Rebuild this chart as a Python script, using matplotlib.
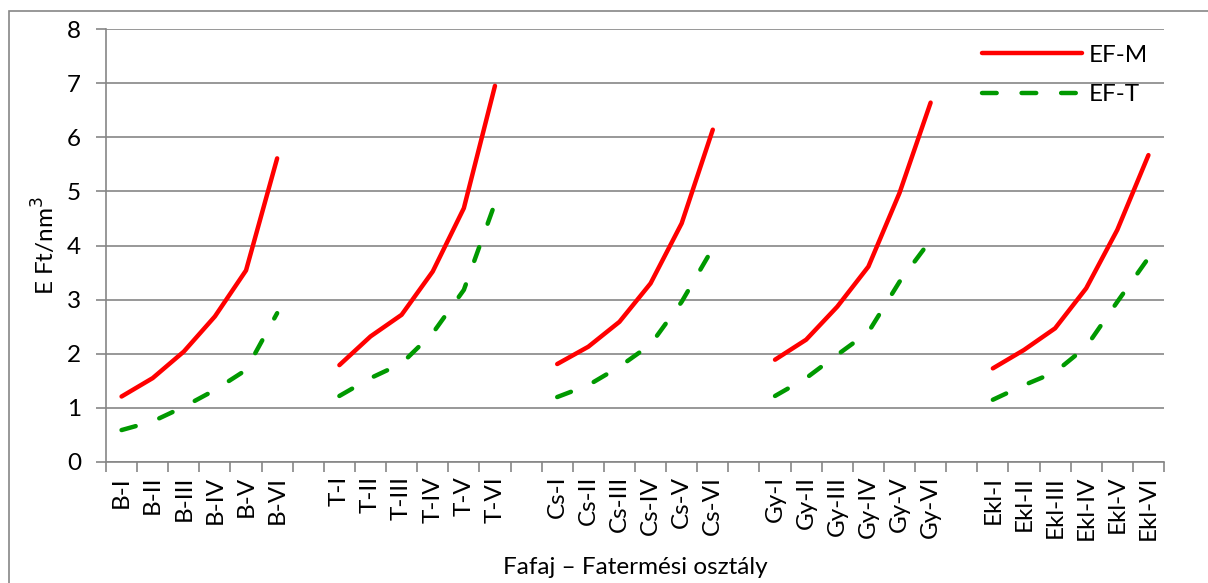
import numpy as np
import matplotlib.pyplot as plt
from matplotlib.patches import Rectangle

plt.rcParams['font.family'] = ['Lato', 'DejaVu Sans']

fafaj = ['B', 'T', 'Cs', 'Gy', 'Ekl']
osztaly = ['I', 'II', 'III', 'IV', 'V', 'VI']

# EF-M ertekek fafajonkent
ef_m = {
    'B':   [1.21, 1.55, 2.04, 2.69, 3.54, 5.61],
    'T':   [1.79, 2.32, 2.72, 3.52, 4.69, 6.95],
    'Cs':  [1.81, 2.13, 2.59, 3.30, 4.41, 6.14],
    'Gy':  [1.89, 2.26, 2.87, 3.61, 4.97, 6.64],
    'Ekl': [1.73, 2.07, 2.47, 3.21, 4.29, 5.67],
}
# EF-T ertekek fafajonkent
ef_t = {
    'B':   [0.59, 0.75, 1.02, 1.33, 1.70, 2.75],
    'T':   [1.22, 1.55, 1.82, 2.38, 3.18, 4.78],
    'Cs':  [1.20, 1.42, 1.76, 2.17, 2.96, 3.95],
    'Gy':  [1.22, 1.55, 1.98, 2.40, 3.33, 4.10],
    'Ekl': [1.15, 1.42, 1.66, 2.13, 2.96, 3.77],
}

# kategoriak, csoportok kozott ures hellyel
labels = []
m_vals = []
t_vals = []
for i, f in enumerate(fafaj):
    if i > 0:
        labels.append('')
        m_vals.append(np.nan)
        t_vals.append(np.nan)
    for j, o in enumerate(osztaly):
        labels.append(f + '-' + o)
        m_vals.append(ef_m[f][j])
        t_vals.append(ef_t[f][j])

x = np.arange(len(labels))
szurke = '#868686'
fs = 17.5

fig = plt.figure(figsize=(12.08, 5.83), dpi=100)
ax = fig.add_axes([106/1208, 1 - 462/583, (1164-106)/1208, (462-29)/583])

ax.plot(x, m_vals, color='#ff0000', lw=3.2, solid_capstyle='round',
        solid_joinstyle='round', label='EF-M')
ax.plot(x, t_vals, color='#009900', lw=3.2, dashes=(3.3, 5.6),
        dash_capstyle='round', label='EF-T')

ax.set_xlim(-0.5, len(labels) - 0.5)
ax.set_ylim(0, 8)
ax.set_yticks(range(0, 9))
ax.yaxis.grid(True, color=szurke, lw=1.2)
ax.set_axisbelow(True)

ax.set_xticks(x)
ax.set_xticklabels(labels, rotation=90, fontsize=fs)
ax.set_xticks(np.arange(-0.5, len(labels)), minor=True)
ax.tick_params(axis='x', which='major', length=0, pad=10)
ax.tick_params(axis='x', which='minor', length=7, width=1.2, color=szurke)
ax.tick_params(axis='y', length=7, width=1.2, color=szurke, labelsize=fs, pad=11)

for s in ['top', 'right']:
    ax.spines[s].set_visible(False)
for s in ['left', 'bottom']:
    ax.spines[s].set_color(szurke)
    ax.spines[s].set_linewidth(1.2)

ax.set_ylabel('E Ft/nm$^3$', fontsize=fs, labelpad=6)
ax.set_xlabel('Fafaj – Fatermési osztály', fontsize=fs, labelpad=12)

ax.legend(loc='upper right', bbox_to_anchor=(1.0, 1.0), frameon=False,
          fontsize=fs, handlelength=4.1, handletextpad=0.3, labelspacing=0.75,
          borderaxespad=0.25)

fig.patches.append(Rectangle((9/1208, -0.1), 1.2, 1 - 11/583 + 0.1,
                             transform=fig.transFigure, fill=False,
                             edgecolor=szurke, lw=1.2))

fig.savefig('out.png', dpi=100)
